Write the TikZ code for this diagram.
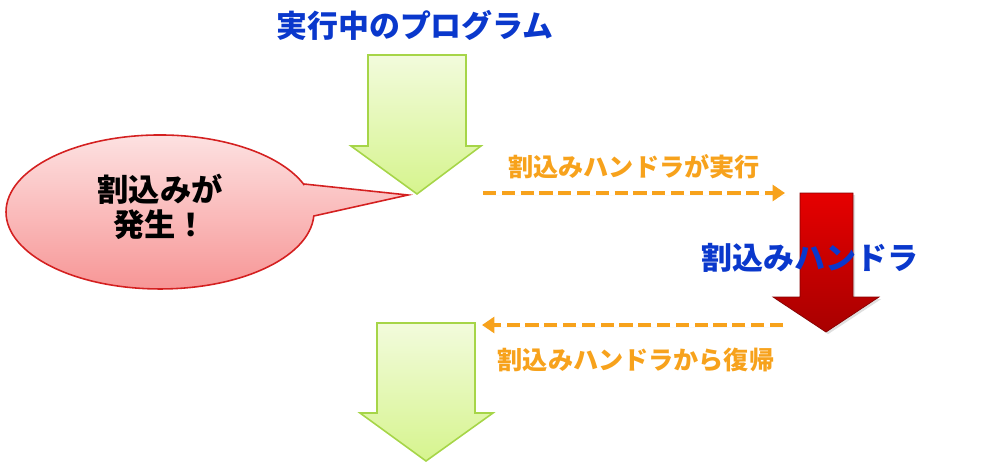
\documentclass[tikz,border=0pt]{standalone}
\usepackage{fontspec}
\newfontfamily\cjk{Noto Sans CJK JP}
\usetikzlibrary{arrows.meta,shadows}
\definecolor{tblue}{HTML}{0A38CC}
\definecolor{torange}{HTML}{F7A21C}
\definecolor{gborder}{HTML}{A6D548}
\definecolor{gtop}{HTML}{F2FBDC}
\definecolor{gbot}{HTML}{D6F48E}
\definecolor{rtop}{HTML}{E60000}
\definecolor{rbot}{HTML}{A80000}
\definecolor{ptop}{HTML}{FDE2E2}
\definecolor{pbot}{HTML}{F79595}
\definecolor{pborder}{HTML}{D42020}
\tikzset{
  x=0.02cm, y=-0.02cm,
  greenarrow/.style={draw=gborder, line width=0.9pt, top color=gtop, bottom color=gbot, line join=miter},
  redarrow/.style={draw=rbot!80!black, line width=0.4pt, top color=rtop, bottom color=rbot,
     drop shadow={opacity=0.25, shadow xshift=1.2pt, shadow yshift=-1.2pt}},
  bubble/.style={draw=pborder, line width=0.9pt, top color=ptop, bottom color=pbot},
  dashconn/.style={draw=torange, line width=2.6pt, dash pattern=on 7.5pt off 3.2pt,
     -{Triangle[length=7pt,width=9pt]},
     drop shadow={opacity=0.3, shadow xshift=0.8pt, shadow yshift=-1.2pt}},
  bluelabel/.style={font=\cjk\bfseries\fontsize{17.6pt}{20pt}\selectfont, text=tblue, inner sep=0pt},
  orangelabel/.style={font=\cjk\bfseries\fontsize{14.3pt}{17pt}\selectfont, text=torange, inner sep=0pt},
  blacklabel/.style={font=\cjk\bfseries\fontsize{17.8pt}{20pt}\selectfont, text=black, inner sep=0pt, align=center}
}
\begin{document}
\begin{tikzpicture}
\useasboundingbox (0,0) rectangle (1000,470);
% top green arrow
\path[greenarrow] (368,55) -- (466,55) -- (466,146) -- (481,146) -- (417,194) -- (351,146) -- (368,146) -- cycle;
% callout
\path[bubble] (304,184) -- (408,195) -- (313.8,216) arc[start angle=3, end angle=339, x radius=154, y radius=77] -- cycle;
\node[blacklabel] (bubbletext) at (160,207) {割込みが\\発生！};
% red arrow
\path[redarrow] (800,193) -- (853,193) -- (853,297) -- (879,297) -- (826,332) -- (773,297) -- (800,297) -- cycle;
% bottom green arrow
\path[greenarrow] (377,323) -- (475,323) -- (475,413) -- (493,413) -- (426,461) -- (360,413) -- (377,413) -- cycle;
% labels
\node[bluelabel] (title) at (415,25) {実行中のプログラム};
\node[bluelabel] (handler) at (810,258) {割込みハンドラ};
\node[orangelabel] (run) at (634,167) {割込みハンドラが実行};
\node[orangelabel] (ret) at (636,360) {割込みハンドラから復帰};
% connectors
\coordinate (a1) at (483,193);
\coordinate (a2) at (785,193);
\coordinate (b1) at (783,325);
\coordinate (b2) at (482,325);
\draw[dashconn] (a1) -- (a2);
\draw[dashconn] (b1) -- (b2);
\end{tikzpicture}
\end{document}
